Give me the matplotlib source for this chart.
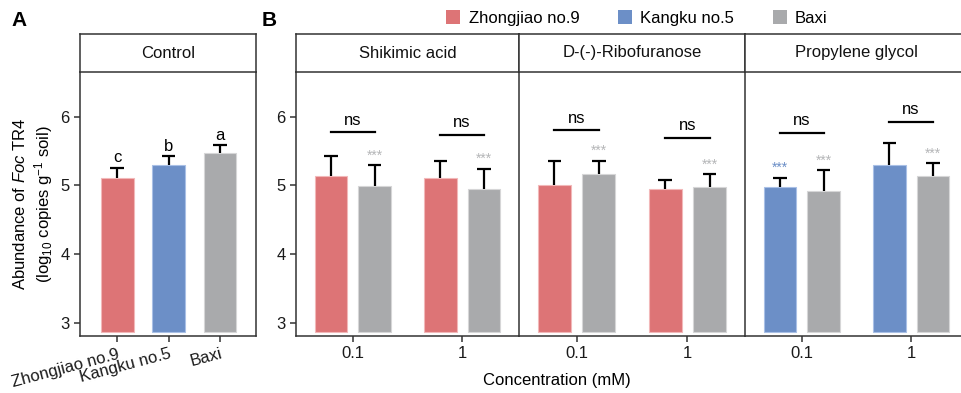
import matplotlib
matplotlib.use("Agg")
import matplotlib.pyplot as plt
from matplotlib.patches import Patch
import numpy as np

plt.rcParams['font.family'] = ['Liberation Sans', 'DejaVu Sans']
plt.rcParams['mathtext.fontset'] = 'custom'
plt.rcParams['mathtext.rm'] = 'Liberation Sans'
plt.rcParams['mathtext.it'] = 'Liberation Sans:italic'

# ---- data ----
cultivars = ['Zhongjiao no.9', 'Kangku no.5', 'Baxi']
cultivar_colors = ['#DD7476', '#6C8FC7', '#A9AAAC']
edge_colors = ['#F2B8B9', '#A9C0E6', '#D6D6D7']

ctrl_mean = [5.10, 5.29, 5.47]
ctrl_top = [5.25, 5.42, 5.58]
ctrl_letters = ['c', 'b', 'a']

compounds = ['Shikimic acid', 'D-(-)-Ribofuranose', 'Propylene glycol']
conc_labels = ['0.1', '1']
treated_cultivar = [0, 0, 1]          # index into cultivars
treated_mean = [[5.13, 5.11], [5.01, 4.94], [4.97, 5.30]]
treated_top = [[5.42, 5.36], [5.35, 5.08], [5.11, 5.61]]
treated_sig = [['', ''], ['', ''], ['***', '']]
baxi_mean = [[4.99, 4.94], [5.16, 4.97], [4.92, 5.14]]
baxi_top = [[5.29, 5.24], [5.36, 5.16], [5.22, 5.32]]
baxi_sig = [['***', '***'], ['***', '***'], ['***', '***']]
ns_level = [[5.77, 5.73], [5.80, 5.69], [5.76, 5.92]]

# ---- layout ----
W, H = 962, 393
fig = plt.figure(figsize=(W / 100, H / 100), dpi=100)

def box(x0, y0, x1, y1):
    return [x0 / W, 1 - y1 / H, (x1 - x0) / W, (y1 - y0) / H]

ylim = (2.805, 6.65)
base = 2.863
spine_c = '#333333'
fs = 12
star_c = ['#DD7476', '#6C8FC7', '#B5B6B8']

def style_axis(ax, left_ticks=True):
    for s in ax.spines.values():
        s.set_color(spine_c)
        s.set_linewidth(1.1)
    ax.spines['top'].set_visible(False)
    ax.set_ylim(*ylim)
    ax.set_yticks([3, 4, 5, 6])
    ax.tick_params(axis='both', length=4, width=1.1, color=spine_c,
                   labelsize=fs, colors='#1a1a1a')
    if not left_ticks:
        ax.tick_params(axis='y', left=False, labelleft=False)

def strip(x0, x1, label, right=True):
    sa = fig.add_axes(box(x0, 34, x1, 72))
    sa.set_xticks([])
    sa.set_yticks([])
    for s in sa.spines.values():
        s.set_color(spine_c)
        s.set_linewidth(1.1)
    if not right:
        sa.spines['right'].set_visible(False)
    sa.text(0.5, 0.5, label, ha='center', va='center', fontsize=fs,
            transform=sa.transAxes, color='#111111')

def bar_with_err(ax, x, mean, top, color, edge, width, cap):
    ax.bar(x, mean - base, width, bottom=base, color=color,
           edgecolor=edge, linewidth=0.8, zorder=2)
    ax.vlines(x, mean, top, color='black', lw=1.6, zorder=3)
    ax.hlines(top, x - cap, x + cap, color='black', lw=1.6, zorder=3)

# ---- panel A ----
axA = fig.add_axes(box(80, 72, 256, 336))
style_axis(axA)
xa = np.arange(1, 4)
for i in range(3):
    bar_with_err(axA, xa[i], ctrl_mean[i], ctrl_top[i], cultivar_colors[i],
                 edge_colors[i], 0.64, 0.13)
    axA.text(xa[i], ctrl_top[i] + 0.04, ctrl_letters[i], ha='center',
             va='bottom', fontsize=fs)
axA.set_xlim(0.28, 3.7)
axA.set_xticks(xa)
axA.set_xticklabels(cultivars, rotation=15, ha='right',
                    rotation_mode='anchor')
axA.set_ylabel('Abundance of $\\it{Foc}$ TR4\n(log$_{10}$ copies g$^{-1}$ soil)',
               fontsize=12, labelpad=4, linespacing=1.25)
strip(80, 256, 'Control')

# ---- panel B ----
edges = [296, 519, 745, 968]
for k, name in enumerate(compounds):
    ax = fig.add_axes(box(edges[k], 72, edges[k + 1], 336))
    style_axis(ax, left_ticks=(k == 0))
    ax.spines['right'].set_visible(False)
    xc = np.arange(1, 3)
    ci = treated_cultivar[k]
    for j in range(2):
        xt = xc[j] - 0.2
        xb = xc[j] + 0.2
        bar_with_err(ax, xt, treated_mean[k][j], treated_top[k][j],
                     cultivar_colors[ci], edge_colors[ci], 0.3, 0.062)
        bar_with_err(ax, xb, baxi_mean[k][j], baxi_top[k][j],
                     cultivar_colors[2], edge_colors[2], 0.3, 0.062)
        if treated_sig[k][j]:
            ax.text(xt, treated_top[k][j] + 0.04, treated_sig[k][j],
                    ha='center', va='bottom', fontsize=10,
                    color=star_c[ci])
        if baxi_sig[k][j]:
            ax.text(xb, baxi_top[k][j] + 0.04, baxi_sig[k][j],
                    ha='center', va='bottom', fontsize=10,
                    color=star_c[2])
        ax.plot([xt, xb], [ns_level[k][j]] * 2, color='black', lw=1.6)
        ax.text(xc[j], ns_level[k][j] + 0.07, 'ns', ha='center',
                va='bottom', fontsize=fs)
    ax.set_xlim(0.48, 2.52)
    ax.set_xticks(xc)
    ax.set_xticklabels(conc_labels)
    strip(edges[k], edges[k + 1], name, right=(k < 2))

fig.text(557 / W, 1 - 381 / H, 'Concentration (mM)', ha='center',
         va='center', fontsize=fs)

# panel letters
fig.text(11 / W, 1 - 20 / H, 'A', fontsize=15, fontweight='bold',
         ha='left', va='center')
fig.text(262 / W, 1 - 20 / H, 'B', fontsize=15, fontweight='bold',
         ha='left', va='center')

# legend
handles = [Patch(facecolor=c, edgecolor='none') for c in cultivar_colors]
fig.legend(handles, cultivars, ncol=3, loc='center',
           bbox_to_anchor=(637 / W, 1 - 18 / H), frameon=False,
           fontsize=fs, handlelength=0.85, handleheight=0.85,
           handletextpad=0.5, columnspacing=2.3, borderpad=0)

fig.savefig('out.png', dpi=100)
